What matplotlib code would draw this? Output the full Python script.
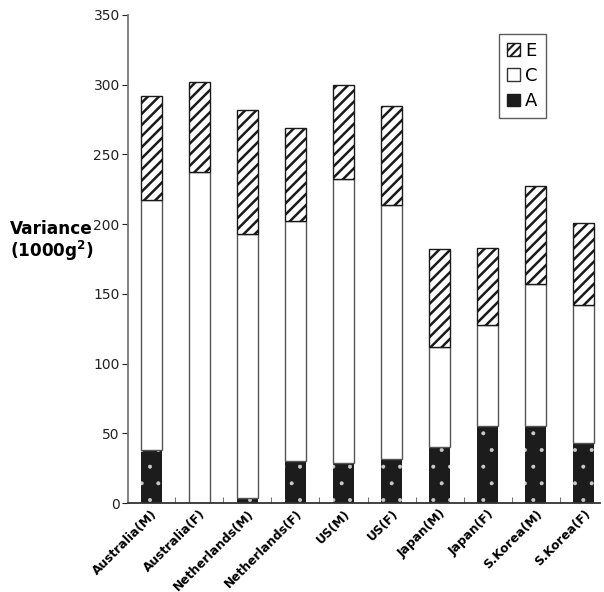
import matplotlib
matplotlib.use("Agg")
import matplotlib.pyplot as plt
import numpy as np
from matplotlib.patches import Patch

plt.rcParams["font.family"] = "DejaVu Sans"

groups = ["Australia(M)", "Australia(F)", "Netherlands(M)", "Netherlands(F)",
          "US(M)", "US(F)", "Japan(M)", "Japan(F)", "S.Korea(M)", "S.Korea(F)"]
A = [38, 0, 4, 30, 29, 32, 40, 55, 55, 43]
C = [179, 237, 189, 172, 203, 182, 72, 73, 102, 99]
E = [75, 65, 89, 67, 68, 71, 70, 55, 70, 59]
yticks = [0, 50, 100, 150, 200, 250, 300, 350]

fig = plt.figure(figsize=(6.04, 5.92), dpi=100)
ax = fig.add_axes([0.212, 0.150, 0.781, 0.825])

x = np.arange(len(groups))
w = 0.44
A = np.array(A); C = np.array(C); E = np.array(E)

# A: black with sparse tiny white dots
plt.rcParams["hatch.linewidth"] = 0.4
ax.bar(x, A, w, color="#1c1c1c", edgecolor="#cccccc", hatch=".", linewidth=0)
# C: plain white
ax.bar(x, C, w, bottom=A, color="white", edgecolor="#555555", linewidth=1.0)
# E: white with thick diagonal stripes
plt.rcParams["hatch.linewidth"] = 1.8
ax.bar(x, E, w, bottom=A + C, color="white", edgecolor="#1a1a1a", hatch="///", linewidth=1.0)

ax.set_xlim(-0.48, 9.33)
ax.set_ylim(0, 350)
ax.set_yticks(yticks)
ax.tick_params(axis="y", direction="out", length=4, pad=2, labelsize=10, colors="#222222")
ax.set_xticks(x)
ax.set_xticklabels(groups, rotation=45, ha="right", rotation_mode="anchor",
                   fontsize=8.8, fontweight="bold")
ax.tick_params(axis="x", length=0, pad=3)
ax.set_xticks(np.arange(len(groups) - 1) + 0.5, minor=True)
ax.tick_params(axis="x", which="minor", direction="in", length=4, color="#555555")

for s in ["top", "right"]:
    ax.spines[s].set_visible(False)
ax.spines["left"].set_color("#777777")
ax.spines["bottom"].set_color("#333333")
ax.spines["left"].set_linewidth(1.3)
ax.spines["bottom"].set_linewidth(1.3)

fig.text(0.016, 0.592, "Variance\n(1000g$^\\mathbf{2}$)", fontsize=12.2, fontweight="bold",
         ha="left", va="center", linespacing=1.1)

plt.rcParams["hatch.linewidth"] = 1.5
handles = [Patch(facecolor="white", edgecolor="#1a1a1a", hatch="////", label="E"),
           Patch(facecolor="white", edgecolor="#333333", label="C"),
           Patch(facecolor="#1c1c1c", edgecolor="#1c1c1c", label="A")]
leg = ax.legend(handles=handles, loc="upper right", bbox_to_anchor=(0.905, 0.98),
                fancybox=False, edgecolor="#333333", fontsize=13,
                handlelength=0.7, handleheight=0.7, handletextpad=0.3,
                labelspacing=0.4, borderpad=0.45)
leg.get_frame().set_linewidth(1.0)

fig.savefig("out.png", dpi=100)
